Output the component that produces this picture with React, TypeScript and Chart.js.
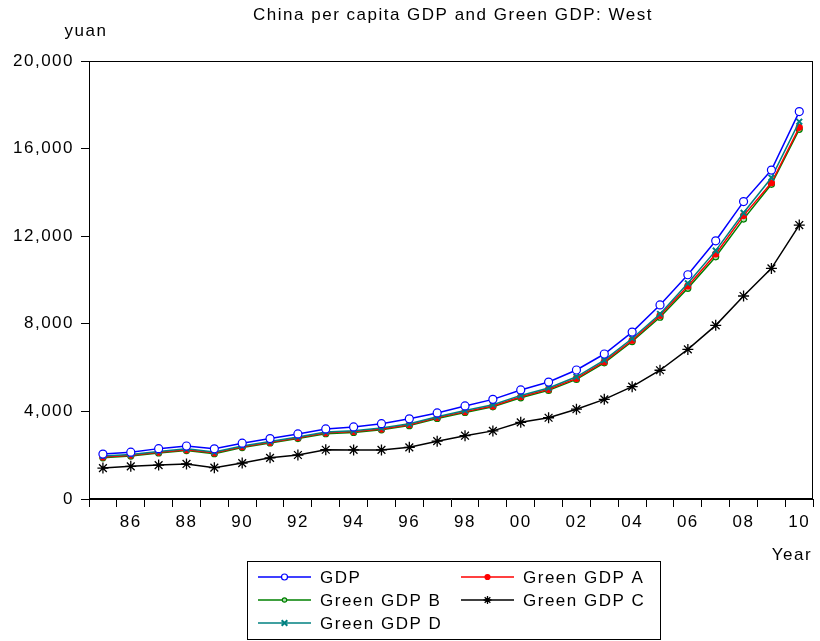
import React, { useEffect, useRef } from 'react';
import { Chart, registerables } from 'chart.js';
import { drawPoint } from 'chart.js/helpers';
Chart.register(...registerables);

const categories = ['85','86','87','88','89','90','91','92','93','94','95','96','97','98','99','00','01','02','03','04','05','06','07','08','09','10'];
const labelEvery = 2;
const yTicks = [0, 4000, 8000, 12000, 16000, 20000];

const gdp = [2050, 2140, 2300, 2420, 2290, 2550, 2760, 2970, 3200, 3290, 3440, 3660, 3930, 4250, 4550, 4980, 5340, 5890, 6620, 7620, 8860, 10240, 11790, 13580, 15020, 17690];
const greenA = [1920, 2000, 2140, 2250, 2110, 2390, 2590, 2800, 3020, 3080, 3200, 3390, 3720, 3990, 4250, 4670, 5010, 5510, 6270, 7250, 8380, 9730, 11190, 12940, 14440, 16970];
const greenB = [1880, 1960, 2100, 2210, 2070, 2350, 2560, 2760, 2980, 3040, 3160, 3350, 3680, 3950, 4210, 4620, 4960, 5460, 6220, 7190, 8300, 9620, 11060, 12780, 14370, 16880];
const greenC = [1410, 1490, 1550, 1600, 1430, 1640, 1880, 2010, 2250, 2240, 2240, 2360, 2640, 2890, 3110, 3500, 3710, 4100, 4550, 5130, 5880, 6830, 7930, 9270, 10530, 12510];
const greenD = [1960, 2030, 2170, 2290, 2150, 2420, 2630, 2830, 3060, 3120, 3240, 3440, 3760, 4040, 4300, 4730, 5070, 5580, 6340, 7330, 8450, 9850, 11340, 13070, 14670, 17230];

const titleText = 'China per capita GDP and Green GDP: West';
const yUnit = 'yuan';
const xName = 'Year';
const FONT = '"Liberation Sans", Arial, sans-serif';
const FSIZE = 17;
const SPACING = '1.5px';

const seriesDefs = [
  { label: 'GDP', data: gdp, color: '#0000ff', style: 'circle', radius: 4, fill: '#ffffff', order: 0, bw: 1.2, lr: 3 },
  { label: 'Green GDP A', data: greenA, color: '#ff0000', style: 'circle', radius: 3, fill: '#ff0000', order: 3, bw: 1.2, lr: 2.5 },
  { label: 'Green GDP B', data: greenB, color: '#008000', style: 'circle', radius: 3, fill: '#b0e0b0', order: 4, bw: 1.2, lr: 2.2 },
  { label: 'Green GDP C', data: greenC, color: '#000000', style: 'star', radius: 5.5, fill: '#000000', order: 2, bw: 1.3, lr: 4 },
  { label: 'Green GDP D', data: greenD, color: '#008080', style: 'crossRot', radius: 4, fill: '#008080', order: 1, bw: 2, lr: 4 },
];

const decor = {
  id: 'decor',
  beforeDraw(chart: any) {
    (chart.ctx as any).letterSpacing = SPACING;
  },
  afterDraw(chart: any) {
    const { ctx, chartArea: a } = chart;
    ctx.save();
    (ctx as any).letterSpacing = SPACING;
    ctx.strokeStyle = '#000';
    ctx.lineWidth = 1;
    ctx.strokeRect(Math.round(a.left) + 0.5, Math.round(a.top) + 0.5, Math.round(a.right - a.left) - 1, Math.round(a.bottom - a.top) - 1);
    ctx.fillStyle = '#000';
    ctx.font = FSIZE + 'px ' + FONT;
    ctx.textBaseline = 'middle';
    ctx.textAlign = 'center';
    ctx.fillText(titleText, 453, 15);
    ctx.fillText(yUnit, 86, 31);
    ctx.fillText(xName, 792, 555);

    // legend
    ctx.strokeRect(247.5, 561.5, 413, 78);
    const cols = [258, 461];
    const rows = [577, 600, 623];
    seriesDefs.forEach((def, k) => {
      const x0 = cols[k % 2];
      const y0 = rows[Math.floor(k / 2)];
      ctx.strokeStyle = def.color;
      ctx.lineWidth = 1.5;
      ctx.beginPath();
      ctx.moveTo(x0, y0);
      ctx.lineTo(x0 + 53, y0);
      ctx.stroke();
      ctx.fillStyle = def.fill;
      ctx.lineWidth = def.bw;
      drawPoint(ctx, { pointStyle: def.style, radius: def.lr, borderWidth: def.bw, rotation: 0 } as any, x0 + 26.5, y0);
      ctx.fillStyle = '#000';
      ctx.textAlign = 'left';
      ctx.font = FSIZE + 'px ' + FONT;
      ctx.fillText(def.label, x0 + 62, y0 + 1);
    });
    ctx.restore();
    (ctx as any).letterSpacing = '0px';
  },
};

export default function App() {
  const ref = useRef<HTMLCanvasElement>(null);
  useEffect(() => {
    const chart = new Chart(ref.current!, {
      type: 'line',
      data: {
        labels: categories,
        datasets: seriesDefs.map((d) => ({
          label: d.label,
          data: d.data,
          order: d.order,
          borderColor: d.color,
          backgroundColor: d.fill,
          borderWidth: 1.5,
          pointStyle: d.style as any,
          pointRadius: d.radius,
          pointBorderColor: d.color,
          pointBackgroundColor: d.fill,
          pointBorderWidth: d.bw,
          tension: 0,
          fill: false,
        })),
      },
      options: {
        animation: false,
        responsive: false,
        maintainAspectRatio: false,
        layout: { padding: { top: 61, right: 2, bottom: 0, left: 0 } },
        plugins: { legend: { display: false }, title: { display: false }, tooltip: { enabled: false } },
        scales: {
          x: {
            type: 'category',
            offset: true,
            grid: { offset: true, drawOnChartArea: false, tickLength: 8, color: '#000', lineWidth: 1 },
            border: { color: '#000', width: 1 },
            ticks: {
              autoSkip: false,
              maxRotation: 0,
              color: '#000',
              padding: 5,
              font: { family: FONT, size: FSIZE },
              callback: (_v: any, i: number) => (i % labelEvery === 1 ? categories[i] : ''),
            },
            afterFit: (s: any) => { s.height = 142; },
          },
          y: {
            min: 0,
            max: 20000,
            afterBuildTicks: (s: any) => { s.ticks = yTicks.map((v) => ({ value: v })); },
            grid: { drawOnChartArea: false, tickLength: 8, color: '#000', lineWidth: 1 },
            border: { color: '#000', width: 1 },
            ticks: {
              color: '#000',
              padding: 7,
              font: { family: FONT, size: FSIZE },
              callback: (v: any) => Number(v).toLocaleString('en-US'),
            },
            afterFit: (s: any) => { s.width = 89; },
          },
        },
      },
      plugins: [decor],
    });
    return () => chart.destroy();
  }, []);
  return (
    <div style={{ position: 'absolute', left: 0, top: 0, width: 820, height: 641, background: '#fff' }}>
      <canvas ref={ref} width={820} height={641} style={{ width: 820, height: 641 }} />
    </div>
  );
}
